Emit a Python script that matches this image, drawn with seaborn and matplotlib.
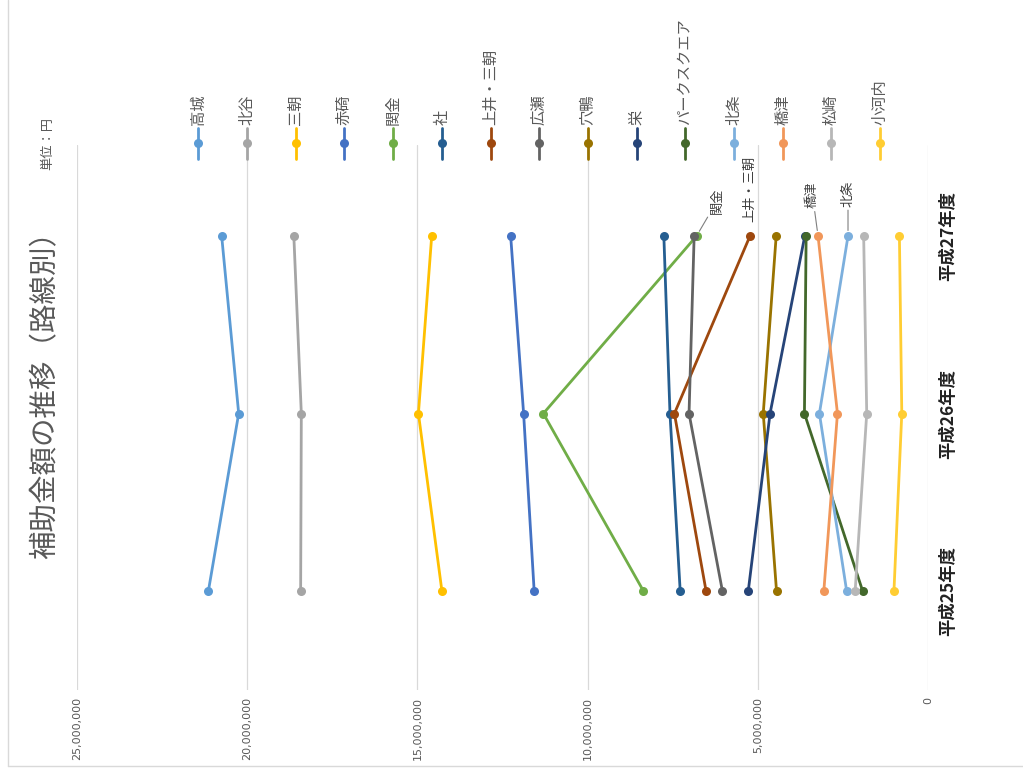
import matplotlib
matplotlib.use("Agg")
import matplotlib.pyplot as plt
from matplotlib.lines import Line2D
import seaborn as sns
import pandas as pd

# ---- data ----
years = ["平成25年度", "平成26年度", "平成27年度"]
routes = ["高城", "北谷", "三朝", "赤碕", "関金", "社", "上井・三朝", "広瀬",
          "穴鴨", "栄", "パークスクエア", "北条", "橋津", "松崎", "小河内"]
v_takagi    = [21140000, 20250000, 20750000]
v_hokudani  = [18430000, 18410000, 18630000]
v_misasa    = [14280000, 14970000, 14580000]
v_akasaki   = [11570000, 11880000, 12260000]
v_sekigane  = [8360000, 11300000, 6800000]
v_yashiro   = [7280000, 7580000, 7760000]
v_agei      = [6520000, 7450000, 5230000]
v_hirose    = [6040000, 7020000, 6870000]
v_anakamo   = [4450000, 4840000, 4460000]
v_sakae     = [5280000, 4640000, 3620000]
v_park      = [1920000, 3630000, 3580000]
v_hojo      = [2390000, 3190000, 2350000]
v_hashizu   = [3060000, 2660000, 3230000]
v_matsuzaki = [2140000, 1800000, 1890000]
v_ogochi    = [1000000, 770000, 840000]
series_values = [v_takagi, v_hokudani, v_misasa, v_akasaki, v_sekigane, v_yashiro,
                 v_agei, v_hirose, v_anakamo, v_sakae, v_park, v_hojo, v_hashizu,
                 v_matsuzaki, v_ogochi]
colors = ["#5B9BD5", "#A5A5A5", "#FFC000", "#4472C4", "#70AD47", "#255E91",
          "#9E480E", "#636363", "#997300", "#264478", "#43682B", "#7CAFDD",
          "#F1975A", "#B7B7B7", "#FFCD33"]
x_ticks = [0, 5000000, 10000000, 15000000, 20000000, 25000000]
title = "補助金額の推移（路線別）"
unit_label = "単位：円"
labelled = ["関金", "上井・三朝", "橋津", "北条"]

rows = []
for r, vals in zip(routes, series_values):
    for i, v in enumerate(vals):
        rows.append({"route": r, "pos": i, "value": v})
df = pd.DataFrame(rows)

# ---- figure ----
sns.set_theme(style="white")
plt.rcParams['font.family'] = ['Noto Sans CJK JP', 'DejaVu Sans']

W, H = 1023, 772
fig = plt.figure(figsize=(W / 100, H / 100), dpi=100)
fig.patch.set_facecolor("white")

def fx(x):
    return x / W

def fy(y):
    return 1 - y / H

ax = fig.add_axes([fx(77), fy(690), (928 - 77) / W, (690 - 145) / H])
sns.lineplot(data=df, x="value", y="pos", hue="route", hue_order=routes,
             palette=colors, marker="o", markersize=6.5, markeredgewidth=0,
             linewidth=2, orient="y", sort=False, errorbar=None, legend=False, ax=ax)

ax.set_xlim(x_ticks[-1], x_ticks[0])
ax.set_ylim(-0.558, 2.513)
ax.set_xticks(x_ticks)
ax.set_xticklabels([f"{t:,}" for t in x_ticks], rotation=90, va="top",
                   fontsize=8, color="#595959", family=["DejaVu Sans"])
ax.set_yticks(range(len(years)))
ax.yaxis.tick_right()
ax.set_yticklabels(years, rotation=90, va="center", fontsize=12.5,
                   color="#222222", fontweight="bold")
ax.tick_params(axis="x", length=0, pad=5)
ax.tick_params(axis="y", length=0, pad=8)
ax.set_xlabel("")
ax.set_ylabel("")
ax.grid(axis="x", color="#d9d9d9", linewidth=0.9)
ax.grid(axis="y", visible=False)
for s in ax.spines.values():
    s.set_visible(False)
ax.set_facecolor("white")

# data labels
label_offsets = {"関金": (15, 16), "上井・三朝": (0, 10), "橋津": (-4, 20), "北条": (0, 21)}
for name in labelled:
    idx = routes.index(name)
    val = series_values[idx][2]
    dx, dy = label_offsets[name]
    arrow = None if name == "上井・三朝" else dict(arrowstyle="-", color="#7f7f7f",
                                                  lw=0.8, shrinkA=0, shrinkB=4)
    ax.annotate(name, xy=(val, 2), xytext=(dx, dy), textcoords="offset points",
                rotation=90, ha="center", va="bottom", fontsize=9.5,
                color="#404040", arrowprops=arrow)

# title & unit
fig.text(fx(45), fy(388), title, rotation=90, ha="center", va="center",
         fontsize=20.5, color="#595959")
fig.text(fx(48), fy(143), unit_label, rotation=90, ha="center", va="center",
         fontsize=9.5, color="#595959")

# legend (vertical entries)
leg_x0, leg_dx = 198.3, 48.7
for i, (name, c) in enumerate(zip(routes, colors)):
    x = leg_x0 + i * leg_dx
    fig.add_artist(Line2D([fx(x), fx(x)], [fy(128), fy(159)], color=c, lw=2,
                          transform=fig.transFigure))
    fig.add_artist(Line2D([fx(x)], [fy(143)], color=c, marker="o", markersize=6.5,
                          markeredgewidth=0, transform=fig.transFigure))
    fig.text(fx(x), fy(125), name, rotation=90, ha="center", va="bottom",
             fontsize=11, color="#595959")

# chart border
fig.add_artist(Line2D([fx(8), fx(8)], [fy(0), fy(766)], color="#d9d9d9", lw=1,
                      transform=fig.transFigure))
fig.add_artist(Line2D([fx(8), fx(1023)], [fy(766), fy(766)], color="#d9d9d9", lw=1,
                      transform=fig.transFigure))

fig.savefig("out.png", dpi=100, facecolor="white")
